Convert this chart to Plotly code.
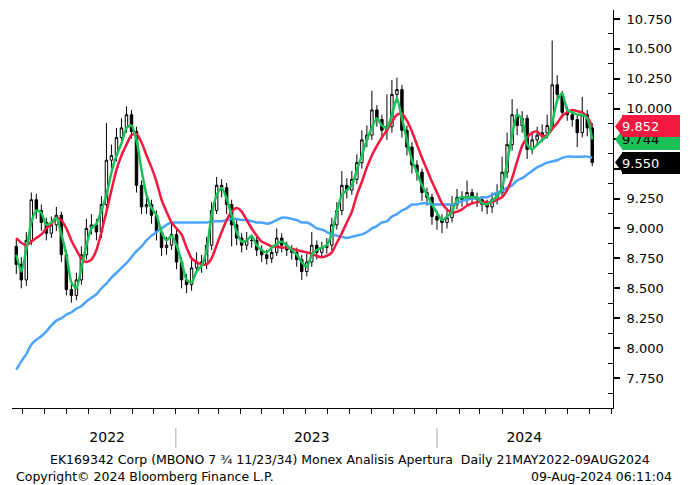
import pandas as pd
import plotly.graph_objects as go

# ---------------- data (weekly) ----------------
dates = pd.date_range("2022-05-23", periods=116, freq="7D")

open_ = [8.85, 8.70, 8.57, 8.90, 9.24, 9.15, 9.05, 8.96, 9.03, 9.11,
         8.78, 8.49, 8.44, 8.57, 8.78, 9.00, 9.03, 8.97, 9.20, 9.57,
         9.61, 9.76, 9.84, 9.95, 9.81, 9.36, 9.18, 9.20, 9.11, 8.97,
         8.84, 8.86, 8.95, 8.72, 8.57, 8.53, 8.67, 8.72, 8.70, 8.86,
         9.15, 9.36, 9.34, 9.20, 9.03, 8.92, 8.86, 8.90, 8.90, 8.82,
         8.78, 8.75, 8.80, 8.92, 8.86, 8.82, 8.80, 8.74, 8.64, 8.72,
         8.86, 8.80, 8.84, 8.86, 9.03, 9.15, 9.36, 9.32, 9.41, 9.55,
         9.74, 9.78, 9.99, 9.91, 9.82, 9.85, 10.12, 10.16, 9.82, 9.68,
         9.53, 9.47, 9.30, 9.26, 9.10, 9.07, 9.05, 9.09, 9.20, 9.26,
         9.24, 9.30, 9.26, 9.24, 9.20, 9.18, 9.24, 9.30, 9.47, 9.70,
         9.95, 9.86, 9.92, 9.66, 9.74, 9.78, 9.80, 9.86, 10.20, 10.12,
         9.97, 9.95, 9.91, 9.80, 9.95, 9.84]

high = [8.92, 8.76, 8.97, 9.30, 9.29, 9.20, 9.09, 9.10, 9.18, 9.14,
        8.82, 8.54, 8.63, 8.85, 9.08, 9.12, 9.08, 9.27, 9.88, 9.70,
        9.84, 9.92, 10.02, 9.99, 9.85, 9.40, 9.27, 9.24, 9.15, 9.01,
        8.93, 9.05, 8.99, 8.76, 8.62, 8.75, 8.80, 8.78, 8.93, 9.22,
        9.43, 9.41, 9.38, 9.24, 9.07, 8.96, 8.97, 8.95, 8.94, 8.86,
        8.82, 8.85, 9.00, 8.96, 8.89, 8.86, 8.84, 8.78, 8.79, 8.97,
        8.90, 8.89, 8.92, 9.09, 9.22, 9.48, 9.42, 9.48, 9.62, 9.82,
        9.86, 10.15, 10.03, 9.95, 10.12, 10.24, 10.26, 10.20, 9.86, 9.72,
        9.57, 9.50, 9.34, 9.29, 9.15, 9.12, 9.16, 9.27, 9.33, 9.31,
        9.40, 9.33, 9.30, 9.27, 9.24, 9.30, 9.37, 9.60, 9.80, 10.08,
        10.00, 9.98, 9.95, 9.79, 9.85, 9.87, 9.95, 10.57, 10.28, 10.15,
        10.02, 9.99, 9.94, 10.10, 9.99, 9.88]

low = [8.62, 8.50, 8.52, 8.86, 9.08, 8.98, 8.90, 8.92, 8.98, 8.72,
       8.44, 8.38, 8.40, 8.53, 8.74, 8.95, 8.90, 8.92, 9.15, 9.50,
       9.56, 9.70, 9.80, 9.75, 9.30, 9.12, 9.12, 9.04, 8.90, 8.77,
       8.78, 8.82, 8.66, 8.50, 8.46, 8.48, 8.62, 8.63, 8.66, 8.82,
       9.12, 9.26, 9.12, 8.85, 8.86, 8.80, 8.82, 8.84, 8.77, 8.72,
       8.70, 8.71, 8.77, 8.80, 8.77, 8.74, 8.68, 8.57, 8.60, 8.68,
       8.74, 8.76, 8.79, 8.82, 8.99, 9.11, 9.25, 9.28, 9.37, 9.50,
       9.68, 9.74, 9.85, 9.76, 9.74, 9.80, 10.05, 9.76, 9.61, 9.46,
       9.40, 9.23, 9.19, 9.03, 8.99, 8.96, 9.00, 9.05, 9.16, 9.18,
       9.19, 9.20, 9.18, 9.14, 9.12, 9.13, 9.20, 9.26, 9.42, 9.65,
       9.78, 9.80, 9.58, 9.62, 9.70, 9.72, 9.75, 9.82, 10.05, 9.92,
       9.90, 9.85, 9.68, 9.76, 9.77, 9.52]

close = [8.70, 8.57, 8.90, 9.24, 9.15, 9.05, 8.96, 9.03, 9.11, 8.78,
         8.49, 8.44, 8.57, 8.78, 9.00, 9.03, 8.97, 9.20, 9.57, 9.61,
         9.76, 9.84, 9.95, 9.81, 9.36, 9.18, 9.20, 9.11, 8.97, 8.84,
         8.86, 8.95, 8.72, 8.57, 8.53, 8.67, 8.72, 8.70, 8.86, 9.15,
         9.36, 9.34, 9.20, 9.03, 8.92, 8.86, 8.90, 8.90, 8.82, 8.78,
         8.75, 8.80, 8.92, 8.86, 8.82, 8.80, 8.74, 8.64, 8.72, 8.86,
         8.80, 8.84, 8.86, 9.03, 9.15, 9.36, 9.32, 9.41, 9.55, 9.74,
         9.78, 9.99, 9.91, 9.82, 9.85, 10.12, 10.16, 9.82, 9.68, 9.53,
         9.47, 9.30, 9.26, 9.10, 9.07, 9.05, 9.09, 9.20, 9.26, 9.24,
         9.30, 9.26, 9.24, 9.20, 9.18, 9.24, 9.30, 9.47, 9.70, 9.95,
         9.86, 9.92, 9.66, 9.74, 9.78, 9.80, 9.86, 10.20, 10.12, 9.97,
         9.95, 9.91, 9.80, 9.95, 9.84, 9.55]

ma_short = [8.78, 8.64, 8.82, 9.05, 9.15, 9.13, 9.03, 9.05, 9.09, 8.95,
            8.78, 8.55, 8.50, 8.67, 8.86, 9.00, 9.04, 9.15, 9.28, 9.47,
            9.61, 9.71, 9.84, 9.86, 9.74, 9.49, 9.28, 9.17, 9.11, 8.97,
            8.90, 8.94, 8.86, 8.72, 8.57, 8.55, 8.64, 8.69, 8.82, 9.11,
            9.28, 9.34, 9.25, 9.11, 8.97, 8.89, 8.90, 8.94, 8.86, 8.82,
            8.80, 8.84, 8.87, 8.89, 8.86, 8.82, 8.78, 8.72, 8.68, 8.78,
            8.82, 8.84, 8.86, 8.96, 9.14, 9.28, 9.32, 9.36, 9.49, 9.61,
            9.74, 9.84, 9.92, 9.86, 9.84, 9.95, 10.09, 9.92, 9.74, 9.57,
            9.47, 9.36, 9.28, 9.20, 9.13, 9.07, 9.10, 9.14, 9.24, 9.26,
            9.26, 9.26, 9.26, 9.21, 9.20, 9.23, 9.27, 9.34, 9.55, 9.78,
            9.95, 9.91, 9.70, 9.66, 9.70, 9.74, 9.77, 9.88, 10.07, 10.13,
            9.99, 9.97, 9.95, 9.95, 9.92, 9.744]

ma_mid = [8.92, 8.88, 8.86, 8.89, 8.92, 8.95, 9.00, 9.04, 9.09, 9.07,
          9.00, 8.90, 8.82, 8.75, 8.72, 8.74, 8.82, 8.97, 9.14, 9.32,
          9.49, 9.61, 9.70, 9.78, 9.79, 9.72, 9.61, 9.51, 9.39, 9.24,
          9.14, 9.05, 9.00, 8.95, 8.84, 8.75, 8.72, 8.70, 8.70, 8.75,
          8.86, 8.97, 9.07, 9.14, 9.17, 9.14, 9.07, 9.00, 8.94, 8.89,
          8.87, 8.85, 8.85, 8.84, 8.84, 8.83, 8.82, 8.81, 8.80, 8.79,
          8.77, 8.76, 8.77, 8.80, 8.88, 8.96, 9.05, 9.14, 9.28, 9.39,
          9.51, 9.61, 9.69, 9.76, 9.82, 9.89, 9.95, 9.96, 9.90, 9.81,
          9.70, 9.59, 9.49, 9.39, 9.30, 9.21, 9.16, 9.13, 9.14, 9.16,
          9.19, 9.21, 9.22, 9.22, 9.22, 9.22, 9.24, 9.26, 9.32, 9.42,
          9.56, 9.69, 9.76, 9.80, 9.81, 9.77, 9.78, 9.83, 9.88, 9.94,
          9.97, 9.99, 9.98, 9.97, 9.93, 9.852]

ma_long = [7.82, 7.89, 7.95, 8.03, 8.07, 8.10, 8.14, 8.19, 8.23, 8.25,
           8.28, 8.30, 8.33, 8.35, 8.39, 8.42, 8.45, 8.50, 8.54, 8.59,
           8.63, 8.67, 8.71, 8.76, 8.81, 8.85, 8.90, 8.94, 8.97, 9.00,
           9.03, 9.05, 9.05, 9.05, 9.05, 9.05, 9.05, 9.05, 9.05, 9.06,
           9.06, 9.06, 9.07, 9.08, 9.08, 9.07, 9.07, 9.06, 9.05, 9.05,
           9.04, 9.05, 9.07, 9.09, 9.09, 9.08, 9.07, 9.05, 9.05, 9.03,
           9.00, 8.99, 8.97, 8.95, 8.94, 8.93, 8.92, 8.93, 8.94, 8.95,
           8.97, 9.00, 9.02, 9.05, 9.06, 9.10, 9.12, 9.15, 9.17, 9.20,
           9.20, 9.21, 9.21, 9.20, 9.20, 9.20, 9.20, 9.20, 9.21, 9.23,
           9.24, 9.25, 9.25, 9.26, 9.26, 9.28, 9.30, 9.31, 9.34, 9.36,
           9.40, 9.42, 9.45, 9.48, 9.51, 9.53, 9.55, 9.56, 9.57, 9.59,
           9.60, 9.60, 9.60, 9.60, 9.60, 9.59]

y_tickvals = [7.75, 8.00, 8.25, 8.50, 8.75, 9.00, 9.25, 9.50, 9.75, 10.00, 10.25, 10.50, 10.75]
# 9.500 and 9.750 sit under the last-value tags in the reference, so they are not visible there
y_ticktext = ["7.750", "8.000", "8.250", "8.500", "8.750", "9.000", "9.250",
              "", "", "10.000", "10.250", "10.500", "10.750"]
year_labels = ["2022", "2023", "2024"]
year_label_dates = ["2022-09-27", "2023-07-10", "2024-05-02"]
year_breaks = ["2023-01-01", "2024-01-01"]

footer_1 = "EK169342 Corp (MBONO 7 \u00be 11/23/34) Monex Analisis Apertura \u00a0Daily 21MAY2022-09AUG2024"
footer_2 = "Copyright\u00a9 2024 Bloomberg Finance L.P."
footer_3 = "09-Aug-2024 06:11:04"

# ---------------- styling ----------------
RED = "#f2183f"
GREEN = "#19c157"
BLUE = "#4ba2ff"
FONT = "DejaVu Sans"
Y_RANGE = [7.50, 10.825]
W, H = 691, 485
ML, MR, MT, MB = 12, 78, 10, 77

fig = go.Figure()
fig.add_trace(go.Candlestick(
    x=dates, open=open_, high=high, low=low, close=close,
    increasing=dict(line=dict(color="black", width=1), fillcolor="white"),
    decreasing=dict(line=dict(color="black", width=1), fillcolor="black"),
    whiskerwidth=0, hoverinfo="skip", showlegend=False))
fig.add_trace(go.Scatter(x=dates, y=ma_long, mode="lines",
                         line=dict(color=BLUE, width=2.5, shape="spline", smoothing=0.6),
                         hoverinfo="skip"))
fig.add_trace(go.Scatter(x=dates, y=ma_mid, mode="lines",
                         line=dict(color=RED, width=2.5, shape="spline", smoothing=0.6),
                         hoverinfo="skip"))
fig.add_trace(go.Scatter(x=dates, y=ma_short, mode="lines",
                         line=dict(color=GREEN, width=2.5, shape="spline", smoothing=0.6),
                         hoverinfo="skip"))

# year separators below the axis
shapes = []
for d in year_breaks:
    shapes.append(dict(type="line", xref="x", yref="paper", x0=d, x1=d,
                       y0=-0.05, y1=-0.10, line=dict(color="#a8a8a8", width=1)))

# last-value tags on the right axis
span = Y_RANGE[1] - Y_RANGE[0]
plot_w = W - ML - MR
plot_h = H - MT - MB
half = 11.0 / plot_h
tip_x = 1 + 2.0 / plot_w
box_x = 1 + 9.0 / plot_w
annotations = []
tags = [(ma_short[-1], GREEN, "black"), (ma_mid[-1], RED, "white"), (close[-1], "black", "white")]
for val, bg, fg in tags:
    yc = (val - Y_RANGE[0]) / span
    shapes.append(dict(type="path", xref="paper", yref="paper",
                       path=f"M {tip_x},{yc} L {box_x + 0.002},{yc + half} L {box_x + 0.002},{yc - half} Z",
                       fillcolor=bg, line=dict(width=0), layer="above"))
    annotations.append(dict(xref="paper", yref="y", x=box_x, y=val, xanchor="left", yanchor="middle",
                            text=f"{val:.3f}", showarrow=False, bgcolor=bg, borderpad=0, borderwidth=0,
                            width=58, height=22, align="left",
                            font=dict(family=FONT, size=13, color=fg)))

annotations += [
    dict(xref="paper", yref="paper", x=(350 - ML) / plot_w, y=(H - MB - 460) / plot_h,
         xanchor="center", yanchor="middle",
         text=footer_1, showarrow=False, font=dict(family=FONT, size=12.5, color="black")),
    dict(xref="paper", yref="paper", x=(14 - ML) / plot_w, y=(H - MB - 476) / plot_h,
         xanchor="left", yanchor="middle",
         text=footer_2, showarrow=False, font=dict(family=FONT, size=12.5, color="black")),
    dict(xref="paper", yref="paper", x=(674 - ML) / plot_w, y=(H - MB - 476) / plot_h,
         xanchor="right", yanchor="middle",
         text=footer_3, showarrow=False, font=dict(family=FONT, size=12.5, color="black")),
]

fig.update_layout(
    width=W, height=H,
    margin=dict(l=ML, r=MR, t=MT, b=MB, autoexpand=False),
    paper_bgcolor="white", plot_bgcolor="white",
    showlegend=False, hovermode=False,
    font=dict(family=FONT, color="black"),
    shapes=shapes, annotations=annotations,
)
fig.update_xaxes(
    type="date", range=["2022-05-17", "2024-09-03"], rangeslider_visible=False,
    showgrid=False, zeroline=False, showline=True, linecolor="black", linewidth=1,
    tickmode="array", tickvals=year_label_dates, ticktext=year_labels, ticks="",
    tickfont=dict(family=FONT, size=14, color="black"), ticklabelstandoff=16,
    minor=dict(tickmode="linear", tick0="2022-06-01", dtick="M1", ticks="outside",
               ticklen=5, tickcolor="black", tickwidth=1, showgrid=False),
)
fig.update_yaxes(
    side="right", range=Y_RANGE, showgrid=False, zeroline=False,
    showline=True, linecolor="black", linewidth=1,
    tickmode="array", tickvals=y_tickvals, ticktext=y_ticktext,
    ticks="outside", ticklen=6, tickwidth=2, tickcolor="black",
    tickfont=dict(family=FONT, size=13, color="black"), ticklabelstandoff=4,
    minor=dict(tickmode="linear", tick0=7.625, dtick=0.25, ticks="inside",
               ticklen=5, tickcolor="black", tickwidth=1, showgrid=False),
)

page_css = ("document.documentElement.style.margin='0';document.body.style.margin='0';"
            "document.documentElement.style.overflow='hidden';document.body.style.overflow='hidden';")
fig.write_html("out.html", post_script=page_css,
               config={"displayModeBar": False, "staticPlot": True})
